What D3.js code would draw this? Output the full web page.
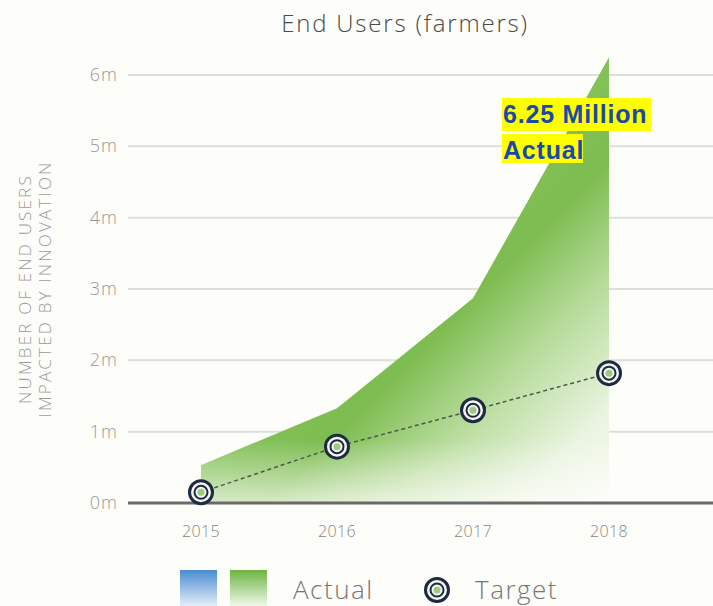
<!DOCTYPE html>
<html><head><meta charset="utf-8">
<script src="https://cdn.jsdelivr.net/npm/d3@7"></script>
<style>
html,body{margin:0;padding:0;background:#fdfdf9;}
svg{display:block;}
</style></head>
<body>
<script>
const years = [2015, 2016, 2017, 2018];
const actual = [0.53, 1.33, 2.87, 6.25];
const target = [0.15, 0.79, 1.3, 1.82];
const yTicks = [0, 1, 2, 3, 4, 5, 6];
const title = "End Users (farmers)";
const yLabel = ["NUMBER OF END USERS", "IMPACTED BY INNOVATION"];
const annotation = ["6.25 Million", "Actual"];

const W = 713, H = 606;
const FONT = "'Open Sans', 'DejaVu Sans', sans-serif";
const svg = d3.select("body").append("svg").attr("width", W).attr("height", H);
svg.append("rect").attr("width", W).attr("height", H).attr("fill", "#fdfdf9");

const x = d3.scalePoint().domain(years).range([201, 609]);
const y = d3.scaleLinear().domain([0, 6]).range([503, 75]);
const gridL = 128, gridR = 713;

const defs = svg.append("defs");

// chord-based gradient
const p0 = [x(years[0]), y(actual[0])], p1 = [x(years[3]), y(actual[3])];
const mid = [(p0[0] + p1[0]) / 2, (p0[1] + p1[1]) / 2];
let dx = p1[0] - p0[0], dy = p1[1] - p0[1];
let nx = -dy, ny = dx; const nl = Math.hypot(nx, ny); nx /= nl; ny /= nl;
const L = 330;
const g = defs.append("linearGradient").attr("id", "areaGrad")
  .attr("gradientUnits", "userSpaceOnUse")
  .attr("x1", mid[0]).attr("y1", mid[1])
  .attr("x2", mid[0] + nx * L).attr("y2", mid[1] + ny * L);
[[0, "#84c25a"], [0.22, "#7dbc50"], [0.5, "#bcdea2"], [0.75, "#e9f4e0"], [1, "#fbfdf7"]]
  .forEach(s => g.append("stop").attr("offset", s[0]).attr("stop-color", s[1]));

const wg = defs.append("linearGradient").attr("id", "whiteFade")
  .attr("gradientUnits", "userSpaceOnUse")
  .attr("x1", 0).attr("y1", y(0)).attr("x2", 0).attr("y2", y(0.9));
wg.append("stop").attr("offset", 0).attr("stop-color", "#fdfdf9").attr("stop-opacity", 0.7);
wg.append("stop").attr("offset", 1).attr("stop-color", "#fdfdf9").attr("stop-opacity", 0);

const bg = defs.append("linearGradient").attr("id", "legBlue").attr("x1", 0).attr("y1", 0).attr("x2", 0).attr("y2", 1);
bg.append("stop").attr("offset", 0).attr("stop-color", "#4b8bd0");
bg.append("stop").attr("offset", 1).attr("stop-color", "#e4edf8");
const gg = defs.append("linearGradient").attr("id", "legGreen").attr("x1", 0).attr("y1", 0).attr("x2", 0).attr("y2", 1);
gg.append("stop").attr("offset", 0).attr("stop-color", "#6cb440");
gg.append("stop").attr("offset", 1).attr("stop-color", "#f0f8ea");

// title
svg.append("text").attr("x", 405).attr("y", 32).attr("text-anchor", "middle")
  .attr("font-family", FONT).attr("font-size", 24).attr("font-weight", 300)
  .attr("letter-spacing", 1.8).attr("fill", "#4a4a4a").text(title);

// y label
const yl = svg.append("text").attr("transform", "translate(0,289) rotate(-90)")
  .attr("text-anchor", "middle").attr("font-family", FONT).attr("font-weight", 300)
  .attr("font-size", 17).attr("fill", "#9a9a9a").attr("letter-spacing", 2.2);
yl.append("tspan").attr("x", 0).attr("y", 31).text(yLabel[0]);
yl.append("tspan").attr("x", 0).attr("y", 51).text(yLabel[1]);

// gridlines
svg.append("g").selectAll("line").data(yTicks.filter(d => d > 0)).join("line")
  .attr("x1", gridL).attr("x2", gridR).attr("y1", d => y(d)).attr("y2", d => y(d))
  .attr("stroke", "#dedede").attr("stroke-width", 2);

// y tick labels
svg.append("g").selectAll("text").data(yTicks).join("text")
  .attr("x", 118).attr("y", d => y(d) + 6).attr("text-anchor", "end")
  .attr("font-family", FONT).attr("font-size", 18).attr("font-weight", 300)
  .attr("letter-spacing", 1).attr("fill", "#999").text(d => d + "m");

// area
const area = d3.area().x((d, i) => x(years[i])).y0(y(0)).y1(d => y(d));
svg.append("clipPath").attr("id", "areaClip").append("path").attr("d", area(actual));
svg.append("path").attr("d", area(actual)).attr("fill", "url(#areaGrad)");
svg.append("rect").attr("clip-path", "url(#areaClip)")
  .attr("x", x(years[0])).attr("width", x(years[3]) - x(years[0]))
  .attr("y", y(0.9)).attr("height", y(0) - y(0.9)).attr("fill", "url(#whiteFade)");

// baseline
svg.append("line").attr("x1", gridL).attr("x2", gridR).attr("y1", y(0)).attr("y2", y(0))
  .attr("stroke", "#6a6a6a").attr("stroke-width", 3);

// x labels
svg.append("g").selectAll("text").data(years).join("text")
  .attr("x", d => x(d)).attr("y", 537).attr("text-anchor", "middle")
  .attr("font-family", FONT).attr("font-size", 16).attr("font-weight", 300)
  .attr("letter-spacing", 0.4).attr("fill", "#858585").text(d => d);

// target dashed line
const line = d3.line().x((d, i) => x(years[i])).y(d => y(d));
svg.append("path").attr("d", line(target)).attr("fill", "none")
  .attr("stroke", "#4a5a4a").attr("stroke-width", 1.5).attr("stroke-dasharray", "4,3");

function marker(sel, cx, cy) {
  const m = sel.append("g").attr("transform", `translate(${cx},${cy})`);
  m.append("circle").attr("r", 11.5).attr("fill", "#f4f6f2").attr("stroke", "#1e2a44").attr("stroke-width", 3);
  m.append("circle").attr("r", 6.5).attr("fill", "none").attr("stroke", "#1e2a44").attr("stroke-width", 2);
  m.append("circle").attr("r", 3.5).attr("fill", "#9ccb7c");
}
target.forEach((d, i) => marker(svg, x(years[i]), y(d)));

// annotation
const ann = svg.append("g").attr("font-family", "Arial, 'Liberation Sans', sans-serif")
  .attr("font-weight", "bold").attr("font-size", 25).attr("fill", "#1a4aa8");
[[annotation[0], 98, 33, 149], [annotation[1], 134, 29, 81]].forEach(([t, top, h, w]) => {
  ann.append("rect").attr("x", 502).attr("y", top).attr("width", w).attr("height", h).attr("fill", "#ffff00");
  ann.append("text").attr("x", 503).attr("y", top + 25).attr("letter-spacing", 0.8).text(t);
});

// legend
svg.append("rect").attr("x", 180).attr("y", 570).attr("width", 37).attr("height", 36).attr("fill", "url(#legBlue)");
svg.append("rect").attr("x", 230).attr("y", 570).attr("width", 37).attr("height", 36).attr("fill", "url(#legGreen)");
svg.append("text").attr("x", 293).attr("y", 599).attr("font-family", FONT).attr("font-weight", 300)
  .attr("font-size", 26).attr("letter-spacing", 1.5).attr("fill", "#777").text("Actual");
marker(svg, 437, 590);
svg.append("text").attr("x", 475).attr("y", 599).attr("font-family", FONT).attr("font-weight", 300)
  .attr("font-size", 26).attr("letter-spacing", 1.5).attr("fill", "#777").text("Target");
</script>
</body></html>
